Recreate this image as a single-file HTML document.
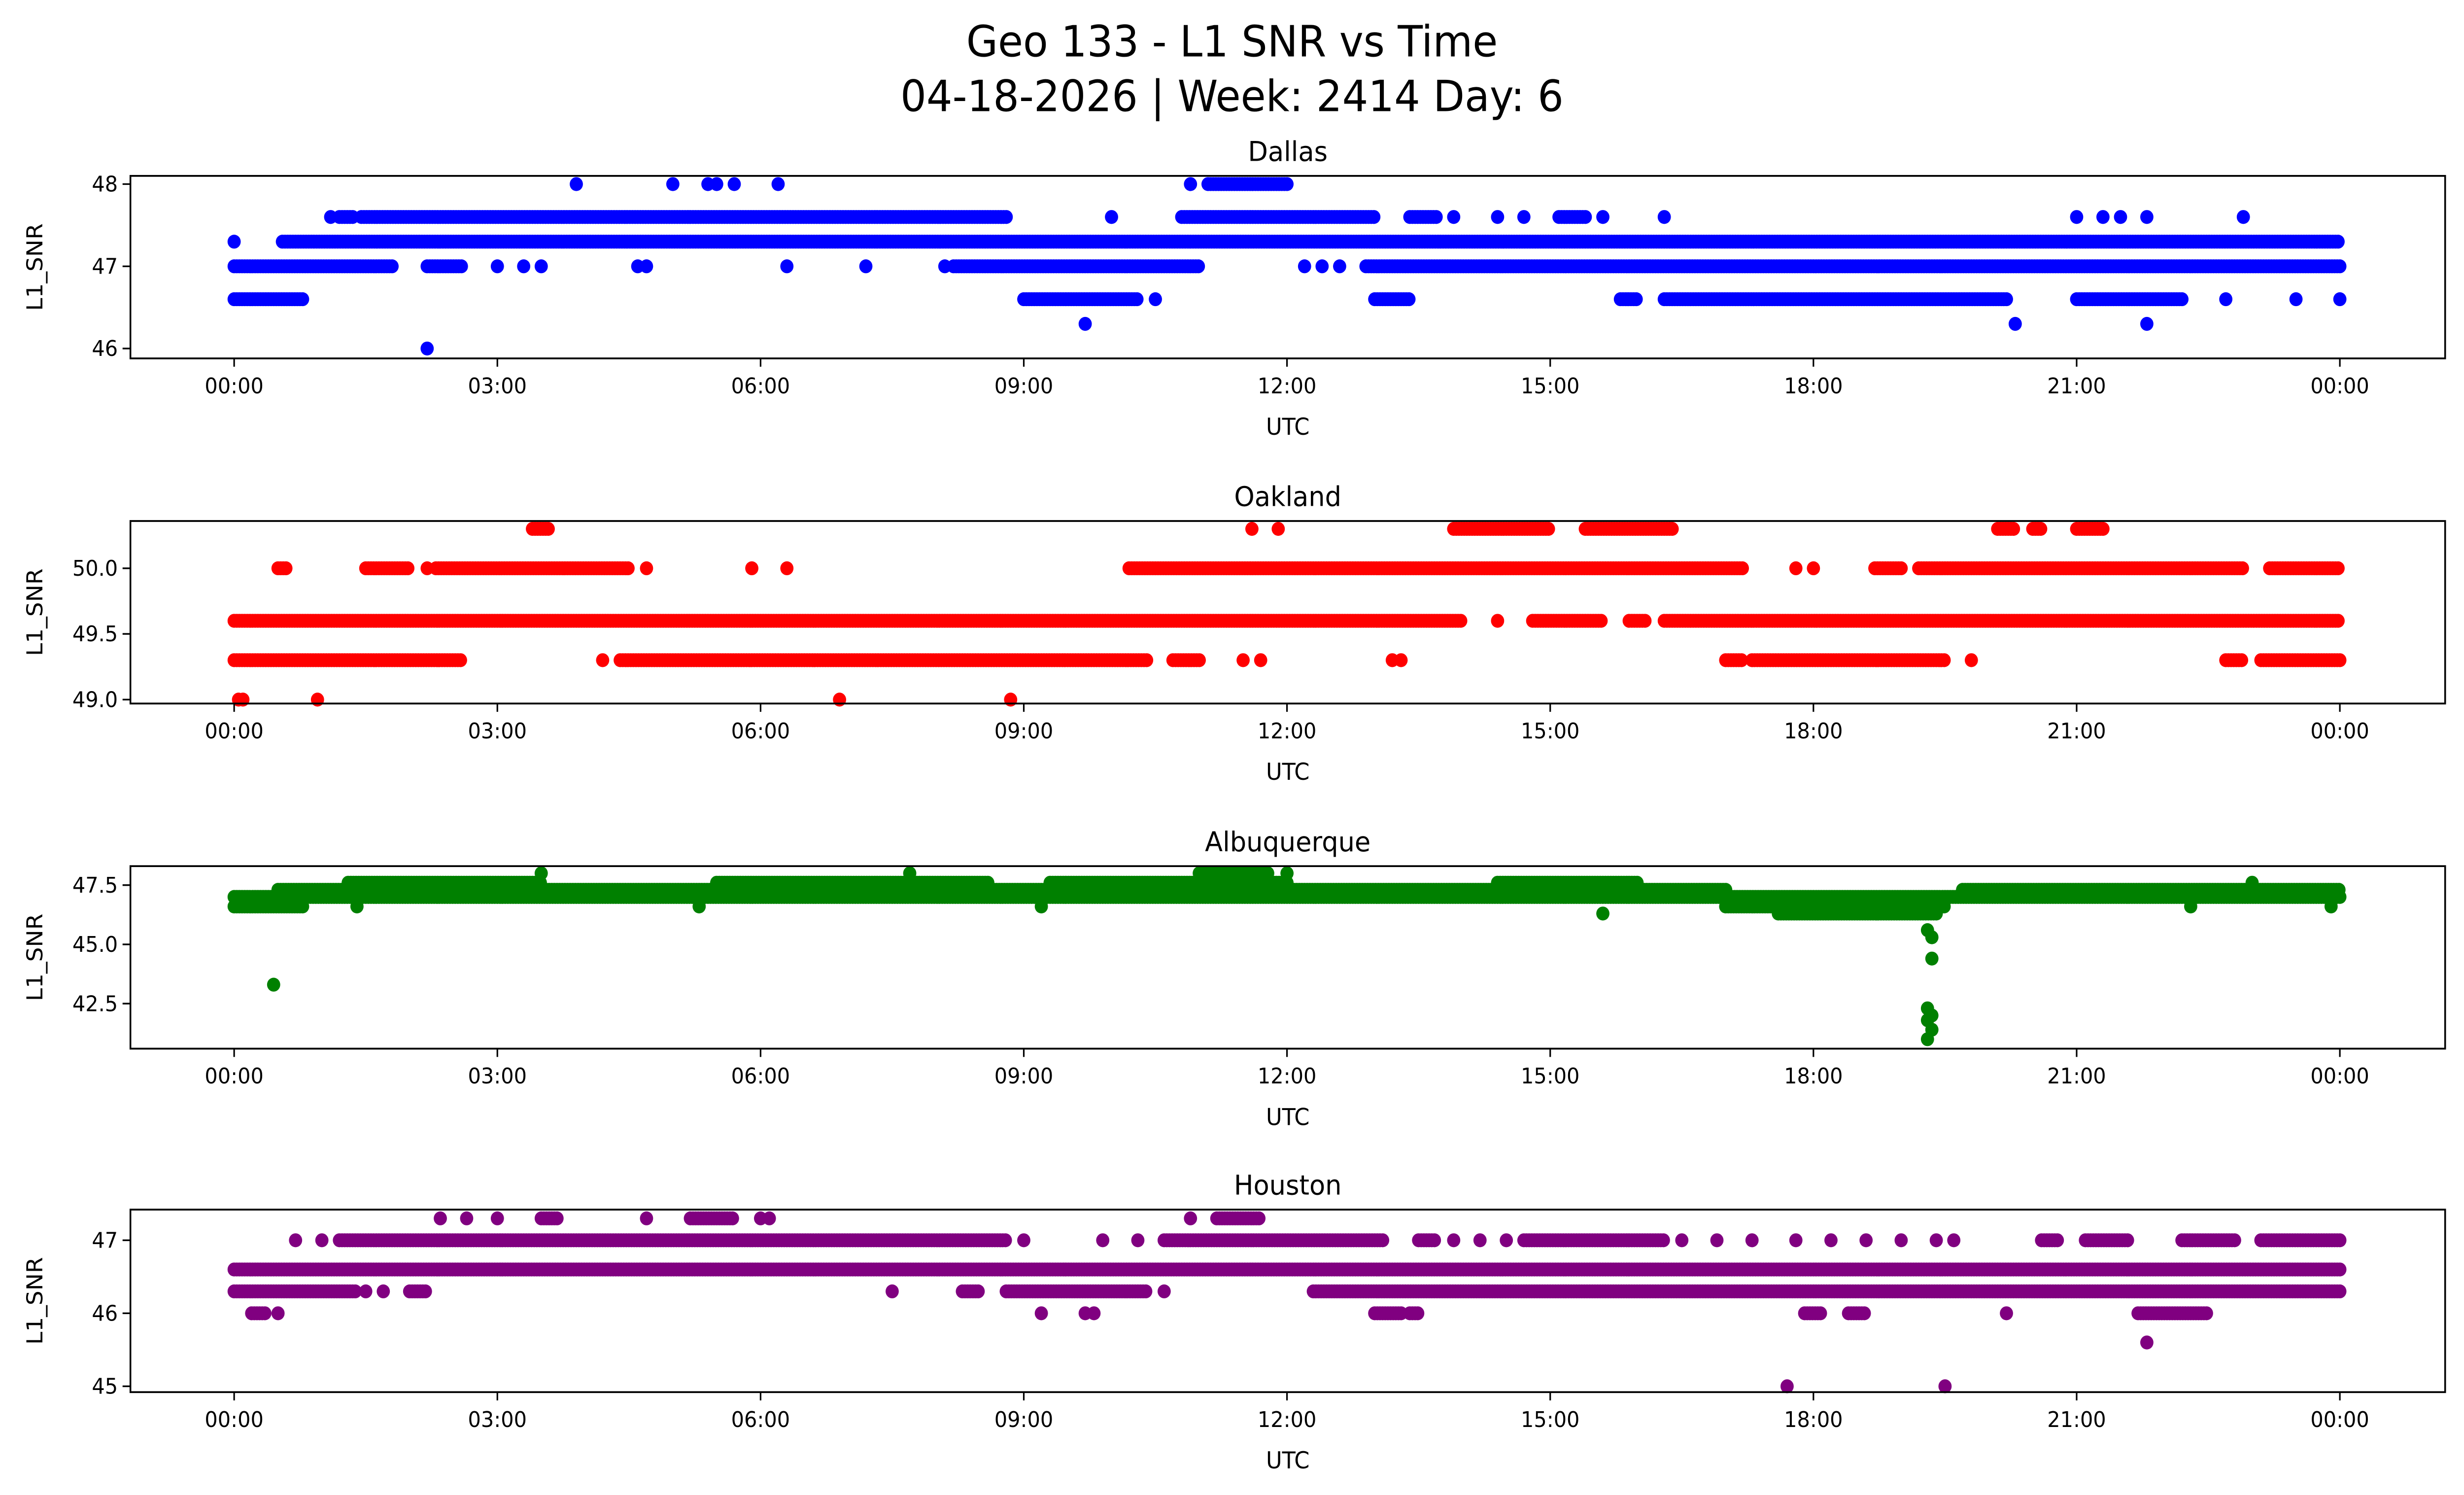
<!DOCTYPE html>
<html><head><meta charset="utf-8"><style>
html,body{margin:0;padding:0;background:#fff;width:100%;height:100%;overflow:hidden;}
svg{display:block;position:absolute;left:0;top:0;width:100vw;height:100vh;font-family:"DejaVu Sans","Liberation Sans",sans-serif;}
</style></head><body>
<svg id="chart" viewBox="0 0 1568 901" preserveAspectRatio="none" xmlns="http://www.w3.org/2000/svg">
<text x="784" y="34" font-size="26" text-anchor="middle">Geo 133 - L1 SNR vs Time</text>
<text x="784" y="67" font-size="26" text-anchor="middle">04-18-2026 | Week: 2414 Day: 6</text>
<g id="panels"></g>
</svg>
<script>
// Station names and colours
const stations = ["Dallas","Oakland","Albuquerque","Houston"];
const colors = ["#0000ff","#ff0000","#008000","#800080"];
// x tick labels (hours)
const xTickHours = [0,3,6,9,12,15,18,21,24];
const xTickLabels = ["00:00","03:00","06:00","09:00","12:00","15:00","18:00","21:00","00:00"];
// y ticks per station
const dallasYTicks = [46,47,48];
const oaklandYTicks = [49.0,49.5,50.0];
const albuquerqueYTicks = [42.5,45.0,47.5];
const houstonYTicks = [45,46,47];
const yTickLabelsAll = [["46","47","48"],["49.0","49.5","50.0"],["42.5","45.0","47.5"],["45","46","47"]];
// y domains
const dallasYDomain = [45.88,48.1];
const oaklandYDomain = [48.97,50.36];
const albuquerqueYDomain = [40.6,48.3];
const houstonYDomain = [44.92,47.42];

// Runs: [snr, startHour, endHour] — continuous sampled runs
const dallasRuns = [
 [47.3,0.55,24],[47.0,0,1.8],[47.0,2.2,2.6],[47.0,8.2,11.0],[47.0,12.9,24],
 [47.6,1.2,1.35],[47.6,1.45,8.8],[47.6,10.8,13.0],[47.6,13.4,13.7],[47.6,15.1,15.4],
 [46.6,0,0.8],[46.6,9.0,10.3],[46.6,13.0,13.4],[46.6,15.8,16.0],[46.6,16.3,20.2],[46.6,21.0,22.2],
 [48,11.1,12.0]
];
// Single points: [snr, hour]
const dallasPoints = [
 [47.3,0],[47.0,3.0],[47.0,3.3],[47.0,3.5],[47.0,4.6],[47.0,4.7],[47.0,6.3],[47.0,7.2],[47.0,8.1],[47.0,12.2],[47.0,12.4],[47.0,12.6],
 [47.6,1.1],[47.6,10.0],[47.6,13.9],[47.6,14.4],[47.6,14.7],[47.6,15.6],[47.6,16.3],[47.6,21.0],[47.6,21.3],[47.6,21.5],[47.6,21.8],[47.6,22.9],
 [46.6,10.5],[46.6,22.7],[46.6,23.5],[46.6,24],
 [48,3.9],[48,5.0],[48,5.4],[48,5.5],[48,5.7],[48,6.2],[48,10.9],
 [46.3,9.7],[46.3,20.3],[46.3,21.8],[46,2.2]
];
const oaklandRuns = [
 [49.6,0,14.0],[49.6,14.8,15.6],[49.6,15.9,16.1],[49.6,16.3,24],
 [49.3,0,2.6],[49.3,4.4,10.4],[49.3,10.7,11.0],[49.3,17.0,17.2],[49.3,17.3,19.5],[49.3,22.7,22.9],[49.3,23.1,24],
 [50.0,0.5,0.6],[50.0,1.5,2.0],[50.0,2.3,4.5],[50.0,10.2,17.2],[50.0,18.7,19.0],[50.0,19.2,22.9],[50.0,23.2,24],
 [50.3,3.4,3.6],[50.3,13.9,15.0],[50.3,15.4,16.4],[50.3,20.1,20.3],[50.3,20.5,20.6],[50.3,21.0,21.3]
];
const oaklandPoints = [
 [49.6,14.4],[49.3,4.2],[49.3,11.5],[49.3,11.7],[49.3,13.2],[49.3,13.3],[49.3,19.8],
 [50.0,2.2],[50.0,4.7],[50.0,5.9],[50.0,6.3],[50.0,17.8],[50.0,18.0],
 [50.3,11.6],[50.3,11.9],
 [49.0,0.05],[49.0,0.1],[49.0,0.95],[49.0,6.9],[49.0,8.85]
];
const albuquerqueRuns = [
 [47.0,0,24],[46.6,0,0.8],[46.6,17.0,19.5],[47.3,0.5,17.0],[47.3,19.7,24],
 [47.6,1.3,3.5],[47.6,5.5,8.6],[47.6,9.3,12.0],[47.6,14.4,16.0],[46.3,17.6,19.4],[48.0,11.0,11.8]
];
const albuquerquePoints = [
 [43.3,0.45],[48.0,3.5],[48.0,7.7],[48.0,12.0],[46.3,15.6],[46.6,1.4],[46.6,5.3],[46.6,9.2],[46.6,22.3],[46.6,23.9],[47.6,23.0],
 [45.6,19.3],[45.3,19.35],[44.4,19.35],[42.3,19.3],[42.0,19.35],[41.8,19.3],[41.4,19.35],[41.0,19.3]
];
const houstonRuns = [
 [46.6,0,24],[46.3,0,1.4],[46.3,2.0,2.2],[46.3,8.3,8.5],[46.3,8.8,10.4],[46.3,12.3,24],
 [47.0,1.2,8.8],[47.0,10.6,13.1],[47.0,13.5,13.7],[47.0,14.7,16.3],[47.0,20.6,20.8],[47.0,21.1,21.6],[47.0,22.2,22.8],[47.0,23.1,24],
 [46.0,0.2,0.35],[46.0,13.0,13.3],[46.0,13.4,13.5],[46.0,17.9,18.1],[46.0,18.4,18.6],[46.0,21.7,22.5],
 [47.3,3.5,3.7],[47.3,5.2,5.7],[47.3,11.2,11.7]
];
const houstonPoints = [
 [46.3,1.5],[46.3,1.7],[46.3,7.5],[46.3,10.6],
 [47.0,0.7],[47.0,1.0],[47.0,9.0],[47.0,9.9],[47.0,10.3],[47.0,13.9],[47.0,14.2],[47.0,14.5],[47.0,16.5],[47.0,16.9],[47.0,17.3],[47.0,17.8],[47.0,18.2],[47.0,18.6],[47.0,19.0],[47.0,19.4],[47.0,19.6],
 [46.0,0.5],[46.0,9.2],[46.0,9.7],[46.0,9.8],[46.0,20.2],
 [47.3,2.35],[47.3,2.65],[47.3,3.0],[47.3,4.7],[47.3,6.0],[47.3,6.1],[47.3,10.9],
 [45.6,21.8],[45,17.7],[45,19.5]
];

const allRuns=[dallasRuns,oaklandRuns,albuquerqueRuns,houstonRuns];
const allPoints=[dallasPoints,oaklandPoints,albuquerquePoints,houstonPoints];
const allYTicks=[dallasYTicks,oaklandYTicks,albuquerqueYTicks,houstonYTicks];
const allYDomains=[dallasYDomain,oaklandYDomain,albuquerqueYDomain,houstonYDomain];

const NS="http://www.w3.org/2000/svg";
const L=83,R=1556,PH=110;
const tops=[106,314,522,729];
function xScale(h){return 149+h*(1340/24);}
function mk(tag,attrs,parent){const e=document.createElementNS(NS,tag);for(const k in attrs)e.setAttribute(k,attrs[k]);parent.appendChild(e);return e;}
const root=document.getElementById('panels');
stations.forEach((name,i)=>{
  const top=tops[i],bot=top+PH,dom=allYDomains[i];
  const yScale=v=>bot-(v-dom[0])/(dom[1]-dom[0])*PH;
  const g=mk('g',{},root);
  
  
  const marks=mk('g',{fill:colors[i]},g);
  
  
  allRuns[i].forEach(r=>{
    for(let h=r[1];h<=r[2]+1e-9;h+=0.03){
      const c=mk('circle',{cx:xScale(h).toFixed(2),cy:yScale(r[0]).toFixed(2),r:4.2},marks);
      
      
    }
  });
  allPoints[i].forEach(p=>{
    const c=mk('circle',{cx:xScale(p[1]).toFixed(2),cy:yScale(p[0]).toFixed(2),r:4.2},marks);
    
    
  });
  const frame=mk('rect',{x:L,y:top,width:R-L,height:PH,fill:'none',stroke:'#000','stroke-width':1.1},g);
  
  
  const t=mk('text',{x:(L+R)/2,y:top-9,'font-size':16.5,'text-anchor':'middle'},g);
  t.textContent=name;
  
  
  xTickHours.forEach((h,k)=>{
    const x=xScale(h);
    mk('line',{x1:x,x2:x,y1:bot,y2:bot+5,stroke:'#000','stroke-width':1},g);
    const tl=mk('text',{x:x,y:bot+21,'font-size':13,'text-anchor':'middle'},g);
    tl.textContent=xTickLabels[k];
    
    
  });
  allYTicks[i].forEach((v,k)=>{
    const y=yScale(v);
    mk('line',{x1:L-5,x2:L,y1:y,y2:y,stroke:'#000','stroke-width':1},g);
    const tl=mk('text',{x:L-8,y:y+4.5,'font-size':13,'text-anchor':'end'},g);
    tl.textContent=yTickLabelsAll[i][k];
    
    
  });
  const xl=mk('text',{x:(L+R)/2,y:bot+46,'font-size':14,'text-anchor':'middle'},g);
  xl.textContent='UTC';
  
  
  const yl=mk('text',{x:0,y:0,'font-size':14,'text-anchor':'middle',transform:`translate(27,${top+PH/2}) rotate(-90)`},g);
  yl.textContent='L1_SNR';
  
  
});
</script>
</body></html>
